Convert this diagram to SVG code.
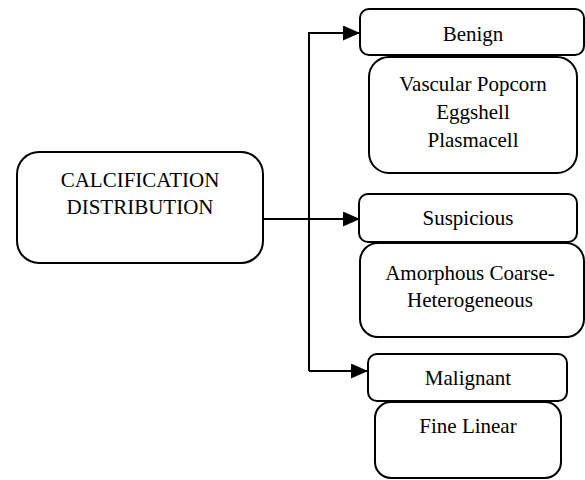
<svg xmlns="http://www.w3.org/2000/svg" width="585" height="480" viewBox="0 0 585 480">
<defs>
<style>
.box{fill:#fff;stroke:#000;stroke-width:2}
.ln{fill:none;stroke:#000;stroke-width:2}
</style>
<marker id="ah" viewBox="0 0 17 15" refX="17" refY="7.5" markerWidth="17" markerHeight="15" markerUnits="userSpaceOnUse" orient="auto">
<path d="M0,0 L17,7.5 L0,15 Z" fill="#000"/>
</marker>
</defs>
<g id="connectors">
<line class="ln" x1="263" y1="219" x2="360" y2="219" marker-end="url(#ah)"/>
<polyline class="ln" points="309,371 309,33 360,33" stroke-width="1.6" marker-end="url(#ah)"/>
<line class="ln" x1="309" y1="371" x2="368" y2="371" marker-end="url(#ah)"/>
</g>
<g font-family="Liberation Serif" font-size="21" text-anchor="middle" fill="#000">
<g id="main">
<rect class="box" x="17" y="152" width="246" height="111" rx="22"/>
<text x="140" y="187">CALCIFICATION</text>
<text x="140" y="214">DISTRIBUTION</text>
</g>
<g id="benign">
<rect class="box" x="360" y="9" width="224" height="46" rx="9"/>
<text x="473" y="41">Benign</text>
</g>
<g id="benign-detail">
<rect class="box" x="369" y="57" width="208" height="116" rx="20"/>
<text x="473" y="91">Vascular Popcorn</text>
<text x="473" y="119">Eggshell</text>
<text x="473" y="147">Plasmacell</text>
</g>
<g id="suspicious">
<rect class="box" x="359" y="194" width="218" height="48" rx="9"/>
<text x="468" y="225">Suspicious</text>
</g>
<g id="suspicious-detail">
<rect class="box" x="360" y="243" width="224" height="94" rx="18"/>
<text x="470" y="280">Amorphous Coarse-</text>
<text x="470" y="307">Heterogeneous</text>
</g>
<g id="malignant">
<rect class="box" x="368" y="354" width="199" height="47" rx="9"/>
<text x="468" y="385">Malignant</text>
</g>
<g id="malignant-detail">
<rect class="box" x="375" y="402" width="186" height="76" rx="16"/>
<text x="468" y="433">Fine Linear</text>
</g>
</g>
</svg>
